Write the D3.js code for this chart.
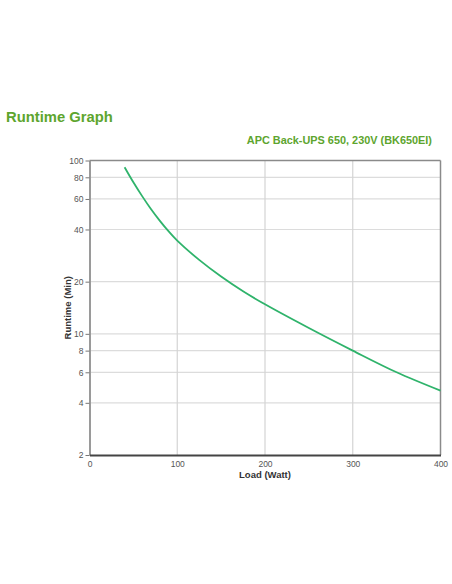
<!DOCTYPE html>
<html>
<head>
<meta charset="utf-8">
<script src="https://cdn.jsdelivr.net/npm/d3@7"></script>
<style>
  html, body { margin: 0; padding: 0; background: #fff; }
  svg { display: block; font-family: "Liberation Sans", Arial, sans-serif; }
</style>
</head>
<body>
<svg id="chart" width="452" height="584"></svg>
<script>
// Data
const loadWatts   = [40, 50, 60, 70, 80, 90, 100, 125, 150, 175, 200, 250, 300, 350, 400];
const runtimeMin  = [91.5, 74.9, 62.3, 52.5, 45.0, 39.1, 34.5, 26.7, 21.4, 17.6, 14.8, 10.8, 8.0, 6.0, 4.7];
const xTicks      = [0, 100, 200, 300, 400];
const yTicks      = [2, 4, 6, 8, 10, 20, 40, 60, 80, 100];
const titleText   = "Runtime Graph";
const subtitle    = "APC Back-UPS 650, 230V (BK650EI)";
const xLabel      = "Load (Watt)";
const yLabel      = "Runtime (Min)";

const green = "#5da52e";
const lineGreen = "#2fb36b";

const svg = d3.select("#chart");
const L = 89.5, R = 440.5, T = 160.5, B = 455;

const x = d3.scaleLinear().domain([0, 400]).range([L, R]);
const y = d3.scaleLog().domain([2, 100]).range([B, T]);

// titles
svg.append("text").attr("x", 6).attr("y", 122)
  .attr("font-size", 14.8).attr("font-weight", "bold").attr("fill", green)
  .text(titleText);
svg.append("text").attr("x", 432).attr("y", 144).attr("text-anchor", "end")
  .attr("font-size", 10.9).attr("font-weight", "bold").attr("fill", green)
  .text(subtitle);

// gridlines
const grid = svg.append("g");
grid.selectAll("line.h").data(yTicks.filter(d => d !== 2 && d !== 100)).enter()
  .append("line").attr("x1", L).attr("x2", R)
  .attr("y1", d => y(d)).attr("y2", d => y(d))
  .attr("stroke", "#dcdcdc").attr("stroke-width", 1.2);
grid.selectAll("line.v").data(xTicks.filter(d => d !== 0 && d !== 400)).enter()
  .append("line").attr("y1", T).attr("y2", B)
  .attr("x1", d => x(d)).attr("x2", d => x(d))
  .attr("stroke", "#d4d4d4").attr("stroke-width", 1.2);

// frame: top and right
svg.append("line").attr("x1", L).attr("x2", R).attr("y1", T).attr("y2", T)
  .attr("stroke", "#8a8a8a").attr("stroke-width", 1.5);
svg.append("line").attr("x1", R).attr("x2", R).attr("y1", T).attr("y2", B)
  .attr("stroke", "#8a8a8a").attr("stroke-width", 1.5);

// y axis
const yAxis = d3.axisLeft(y).tickValues(yTicks).tickFormat(d3.format("d")).tickSize(4).tickSizeOuter(0);
const gy = svg.append("g").attr("transform", `translate(${L},0)`).call(yAxis);
gy.select(".domain").attr("stroke", "#9a9a9a").attr("stroke-width", 2);
gy.selectAll(".tick line").attr("stroke", "#777");
gy.selectAll(".tick text").attr("fill", "#555").attr("font-size", 8.5).attr("x", -6)
  .style("font-family", "'Liberation Sans', Arial, sans-serif");

// x axis
const xAxis = d3.axisBottom(x).tickValues(xTicks).tickFormat(d3.format("d")).tickSize(0).tickSizeOuter(0);
const gx = svg.append("g").attr("transform", `translate(0,${B})`).call(xAxis);
gx.select(".domain").attr("stroke", "#444").attr("stroke-width", 1.8);
gx.selectAll(".tick text").attr("fill", "#555").attr("font-size", 8.5).attr("dy", "0.71em").attr("y", 6)
  .style("font-family", "'Liberation Sans', Arial, sans-serif");

// axis labels
svg.append("text").attr("x", 265).attr("y", 478).attr("text-anchor", "middle")
  .attr("font-size", 9.5).attr("font-weight", "bold").attr("fill", "#333").text(xLabel);
svg.append("text").attr("transform", `translate(71,${(T + B) / 2}) rotate(-90)`)
  .attr("text-anchor", "middle")
  .attr("font-size", 9.5).attr("font-weight", "bold").attr("fill", "#333").text(yLabel);

// curve
const data = loadWatts.map((w, i) => ({ w, r: runtimeMin[i] }));
const line = d3.line().x(d => x(d.w)).y(d => y(d.r)).curve(d3.curveCatmullRom.alpha(0.5));
svg.append("path").datum(data).attr("d", line)
  .attr("fill", "none").attr("stroke", lineGreen).attr("stroke-width", 1.8);
</script>
</body>
</html>
